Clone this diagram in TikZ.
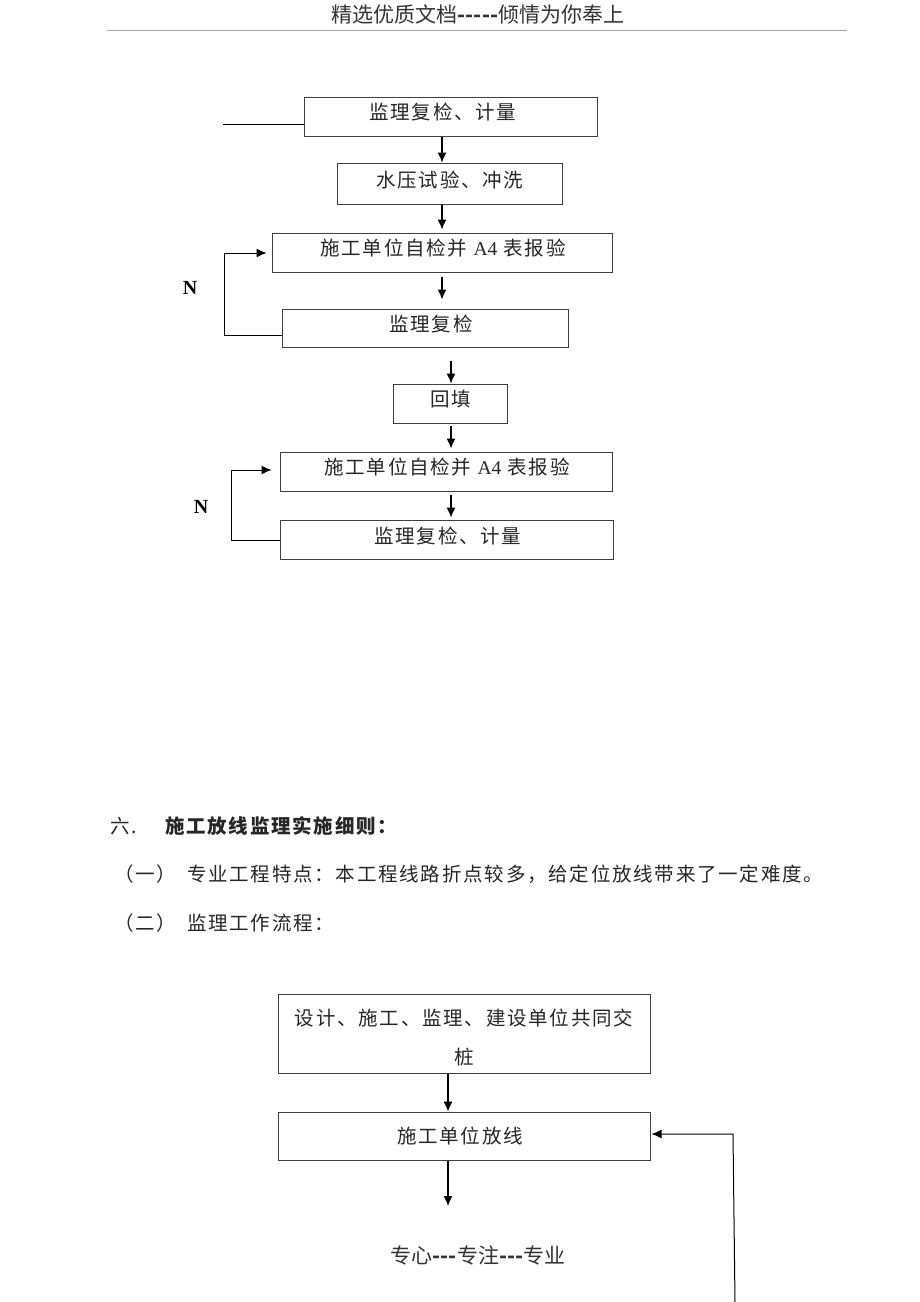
\documentclass[tikz,border=0pt]{standalone}
\usepackage{fontspec}
\setmainfont{Liberation Serif}
\newfontfamily\cjk[LetterSpace=9]{Noto Sans CJK SC}
\newfontfamily\cjkplain{Noto Sans CJK SC}
\usetikzlibrary{arrows.meta}

\tikzset{
	box/.style={draw=black!75,line width=1pt,inner sep=0pt},
	txt/.style={inner sep=0pt,font=\fontsize{19.5}{39}\selectfont\cjk,text=black!85},
	para/.style={txt,anchor=west},
	plain/.style={inner sep=0pt,font=\fontsize{21}{24}\selectfont\cjkplain,text=black!80},
	letter/.style={inner sep=0pt,font=\fontsize{20}{24}\selectfont\bfseries},
	wire/.style={line width=1pt},
	arr/.style={line width=1.3pt,-{Latex[length=10pt,width=9pt]}},
	back/.style={line width=1pt,-{Latex[length=10pt,width=9pt]}}
}

\begin{document}
\begin{tikzpicture}[x=1pt,y=1pt]
\useasboundingbox (0,0) rectangle (920,-1302);
\fill[white] (0,0) rectangle (920,-1302);

% page header
\node[plain] (head) at (478,-14) {精选优质文档{\bfseries -----}倾情为你奉上};
\coordinate (ruleL) at (107,-30);
\coordinate (ruleR) at (847,-30);
\draw[draw=violet!25!gray!60,line width=0.9pt] (ruleL)--(ruleR);

% first flow
\node[box,minimum width=293pt,minimum height=39pt] (jl1) at (450.5,-116.5) {};
\node[box,minimum width=225pt,minimum height=41pt] (sy) at (449.5,-183.5) {};
\node[box,minimum width=340pt,minimum height=39pt] (zj1) at (442,-252.5) {};
\node[box,minimum width=286pt,minimum height=38pt] (jl2) at (425,-328) {};
\node[box,minimum width=114pt,minimum height=39pt] (ht) at (450,-403.5) {};
\node[box,minimum width=332pt,minimum height=39pt] (zj2) at (446,-471.5) {};
\node[box,minimum width=333pt,minimum height=39pt] (jl3) at (446.5,-539.5) {};

\node[txt] (tjl1) at (443,-112) {监理复检、计量};
\node[txt] (tsy) at (450,-180) {水压试验、冲洗};
\node[txt] (tzj1) at (443,-248) {施工单位自检并 {\rmfamily A4} 表报验};
\node[txt] (tjl2) at (431,-324) {监理复检};
\node[txt] (tht) at (451,-399) {回填};
\node[txt] (tzj2) at (447,-467) {施工单位自检并 {\rmfamily A4} 表报验};
\node[txt] (tjl3) at (448,-536) {监理复检、计量};

\coordinate (axA) at (442,0);
\coordinate (axB) at (451,0);
\draw[arr] (jl1.south -| axA)--(sy.north -| axA);
\draw[arr,shorten >=3pt] (sy.south -| axA)--(zj1.north -| axA);
\draw[arr,shorten <=4pt,shorten >=9pt] (zj1.south -| axA)--(jl2.north -| axA);
\draw[arr,shorten <=13pt] (jl2.south -| axB)--(ht.north -| axB);
\draw[arr,shorten <=2pt,shorten >=3pt] (ht.south -| axB)--(zj2.north -| axB);
\draw[arr,shorten <=3pt,shorten >=2pt] (zj2.south -| axB)--(jl3.north -| axB);

% feedback lines
\coordinate (inL) at (223,-124);
\draw[wire] (inL)--(inL -| jl1.west);
\coordinate (backA) at (224,-335);
\coordinate (topA) at (224,-253);
\coordinate (backB) at (231,-540);
\coordinate (topB) at (231,-470);
\draw[back,shorten >=5pt] (backA -| jl2.west)--(backA)--(topA)--(topA -| zj1.west);
\draw[back,shorten >=8pt] (backB -| jl3.west)--(backB)--(topB)--(topB -| zj2.west);
\node[letter] (n1) at (190,-288) {N};
\node[letter] (n2) at (201,-507) {N};

% text
\node[para,font=\fontsize{19.5}{24}\selectfont\cjk\bfseries] (sec) at (165,-826) {施工放线监理实施细则：};
\node[para] (num) at (110,-826) {六.};
\node[para] (no1) at (114,-874) {（一）};
\node[para] (p1) at (187,-874) {专业工程特点：本工程线路折点较多，给定位放线带来了一定难度。};
\node[para] (no2) at (114,-923) {（二）};
\node[para] (p2) at (187,-923) {监理工作流程：};

% second flow
\node[box,minimum width=372pt,minimum height=79pt] (jz) at (464,-1033.5) {};
\node[box,minimum width=372pt,minimum height=48pt] (fx) at (464,-1136) {};
\node[txt,align=center] (tjz) at (464,-1037) {设计、施工、监理、建设单位共同交\\桩};
\node[txt] (tfx) at (460,-1136) {施工单位放线};
\coordinate (axC) at (448,0);
\coordinate (endC) at (448,-1206);
\coordinate (upA) at (735,-1302);
\coordinate (upB) at (733,-1134);
\draw[arr] (jz.south -| axC)--(fx.north -| axC);
\draw[arr] (fx.south -| axC)--(endC);
\draw[back,shorten >=1pt] (upA)--(upB)--(fx.east |- upB);

% page footer
\node[plain] (foot) at (478,-1255) {专心{\bfseries ---}专注{\bfseries ---}专业};
\end{tikzpicture}
\end{document}
